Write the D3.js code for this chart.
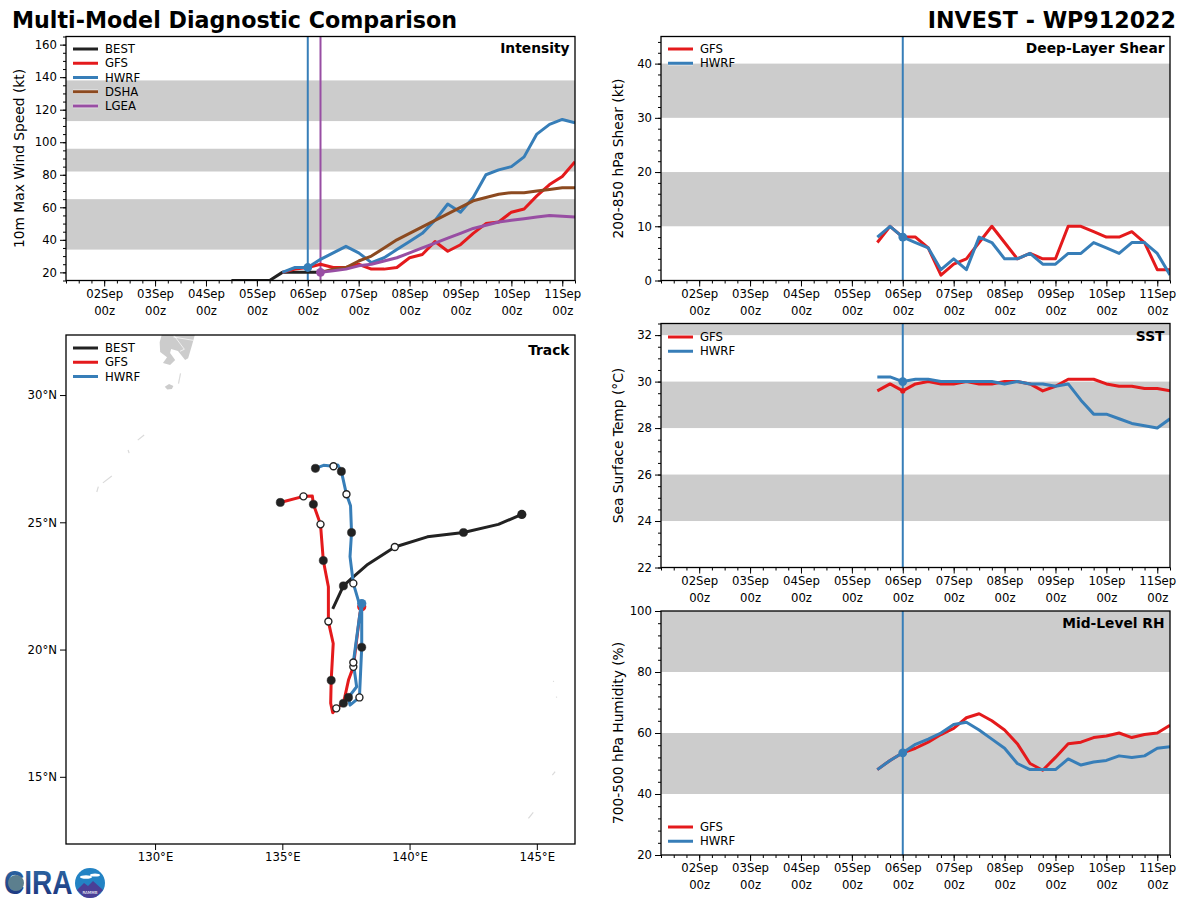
<!DOCTYPE html>
<html lang="en">
<head>
<meta charset="UTF-8">
<title>Multi-Model Diagnostic Comparison</title>
<script src="https://d3js.org/d3.v7.min.js"></script>
<style>
  html, body { margin: 0; padding: 0; background: #fff; }
  svg { display: block; }
  text { font-family: "DejaVu Sans", sans-serif; }
</style>
</head>
<body>
<script>
// forecast times, in days of September
var modelDays = [5.5, 5.75, 6, 6.25, 6.5, 6.75, 7, 7.25, 7.5, 7.75, 8, 8.25, 8.5, 8.75, 9, 9.25, 9.5, 9.75, 10, 10.25, 10.5, 10.75, 11, 11.25];
var bestDays = [4.5, 4.75, 5, 5.25, 5.5, 5.75, 6, 6.25];
var statDays = [6.25, 6.5, 6.75, 7, 7.25, 7.5, 7.75, 8, 8.25, 8.5, 8.75, 9, 9.25, 9.5, 9.75, 10, 10.25, 10.5, 10.75, 11, 11.25];
var majorDays = [2, 3, 4, 5, 6, 7, 8, 9, 10, 11];
var dayLabels = ["02Sep", "03Sep", "04Sep", "05Sep", "06Sep", "07Sep", "08Sep", "09Sep", "10Sep", "11Sep"];

// intensity (kt)
var vmaxBest = [15, 15, 15, 15, 20, 20, 20, 20];
var vmaxGfs = [20, 22, 23, 25, 23, 23, 25, 22, 22, 23, 29, 31, 39, 33, 37, 44, 50, 51, 57, 59, 67, 74, 79, 88];
var vmaxHwrf = [20, 23, 23, 28, 32, 36, 32, 26, 29, 34, 39, 44, 52, 62, 57, 66, 80, 83, 85, 91, 105, 111, 114, 112];
var vmaxDsha = [20, 22, 23, 27, 30, 35, 40, 44, 48, 52, 56, 60, 64, 66, 68, 69, 69, 70, 71, 72, 72];
var vmaxLgea = [20, 21, 22, 24, 25, 27, 29, 32, 35, 38, 41, 44, 47, 49, 51, 52, 53, 54, 55, 54.5, 54];

// shear (kt)
var shearGfs = [7, 10, 8, 8, 6, 1, 3, 4, 7, 10, 7, 4, 5, 4, 4, 10, 10, 9, 8, 8, 9, 7, 2, 2];
var shearHwrf = [8, 10, 8, 7, 6, 2, 4, 2, 8, 7, 4, 4, 5, 3, 3, 5, 5, 7, 6, 5, 7, 7, 5, 1];

// sst (C)
var sstGfs = [29.6, 29.9, 29.6, 29.9, 30, 29.9, 29.9, 30, 29.9, 29.9, 30, 30, 29.9, 29.6, 29.8, 30.1, 30.1, 30.1, 29.9, 29.8, 29.8, 29.7, 29.7, 29.6];
var sstHwrf = [30.2, 30.2, 30, 30.1, 30.1, 30, 30, 30, 30, 30, 29.9, 30, 29.9, 29.9, 29.8, 29.9, 29.2, 28.6, 28.6, 28.4, 28.2, 28.1, 28, 28.4];

// mid level rh (%)
var rhGfs = [48, 51, 53.5, 55, 57, 59.5, 61.5, 65, 66.3, 64, 61, 56.5, 50, 47.8, 52, 56.5, 57, 58.5, 59, 60, 58.5, 59.5, 60, 62.5];
var rhHwrf = [48, 51, 53.5, 56.3, 58, 60, 62.8, 63.5, 61, 58, 55, 50, 48, 48, 48, 51.5, 49.5, 50.5, 51, 52.5, 52, 52.5, 55, 55.5];

// shaded bands
var vmaxBands = [[34, 65], [82, 96], [113, 138]];
var shearBands = [[10, 20], [30, 40]];
var sstBands = [[24, 26], [28, 30], [32, 33]];
var rhBands = [[40, 60], [80, 100]];

// tracks, lon / lat
var bestLon = [144.41, 143.49, 142.12, 140.7, 139.42, 138.32, 137.79, 137.4, 136.98];
var bestLat = [25.31, 24.92, 24.6, 24.43, 24.03, 23.32, 22.86, 22.5, 21.6];
var bestMarkLon = [142.12, 139.42, 137.4];
var bestMarkLat = [24.6, 24.03, 22.5];
var bestMarkOpen = [false, true, false];

var gfsLon = [138.12, 138.05, 137.79, 137.6, 137.4, 137.12, 136.98, 136.9, 136.92, 137.0, 136.81, 136.81, 136.61, 136.5, 136.22, 136.18, 135.83, 134.92];
var gfsLat = [21.68, 21.42, 19.32, 18.8, 17.89, 17.69, 17.52, 17.89, 18.79, 20.24, 21.1, 22.47, 23.5, 24.92, 25.71, 26.03, 26.02, 25.78];
var gfsMarkLon = [137.79, 137.4, 137.12, 136.92, 136.81, 136.61, 136.5, 136.22, 135.83, 134.92];
var gfsMarkLat = [19.32, 17.89, 17.69, 18.79, 21.1, 23.5, 24.92, 25.71, 26.02, 25.78];
var gfsMarkOpen = [true, false, true, false, true, false, true, false, true, false];

var hwrfLon = [138.12, 138.12, 138.03, 137.66, 137.6, 137.92, 137.79, 138.02, 138.08, 137.79, 137.66, 137.72, 137.68, 137.52, 137.32, 137.18, 137.01, 136.62, 136.3];
var hwrfLat = [21.81, 20.09, 18.12, 17.82, 18.12, 18.54, 19.49, 21.2, 21.61, 22.6, 23.65, 24.6, 25.65, 26.1, 27.0, 27.25, 27.2, 27.24, 27.12];
var hwrfMarkLon = [138.12, 138.03, 137.6, 137.79, 137.79, 137.72, 137.52, 137.32, 137.01, 136.3];
var hwrfMarkLat = [20.09, 18.12, 18.12, 19.49, 22.6, 24.6, 26.1, 27.0, 27.2, 27.12];
var hwrfMarkOpen = [false, true, false, true, true, false, true, false, true, false];

var lonTicks = [130, 135, 140, 145];
var latTicks = [15, 20, 25, 30];

// land, [lon, lat]
var kyushu = [[130.3, 32.5], [131.6, 32.5], [131.45, 31.96], [131.3, 31.45], [131.18, 31.38], [130.9, 31.73], [130.63, 31.81], [130.59, 31.65], [130.79, 31.38], [130.59, 31.18], [130.31, 31.26], [130.47, 31.49], [130.2, 31.69], [130.18, 32.08]];
var tanegashima = [[130.38, 30.33], [130.55, 30.43], [130.72, 30.36], [130.66, 30.24], [130.48, 30.22]];
var kyushuBorders = [[[130.7, 32.4], [131.15, 31.8], [130.98, 31.72]], [[130.72, 32.28], [131.5, 32.15]]];
var islets = [
  [[131.0, 30.85], [130.92, 30.45]],
  [[129.32, 28.23], [129.57, 28.43]],
  [[128.94, 27.84], [128.98, 27.72]],
  [[128.3, 26.82], [127.95, 26.55]],
  [[127.77, 26.4], [127.71, 26.19]],
  [[144.67, 13.37], [144.86, 13.6]],
  [[145.61, 15.07], [145.72, 15.2]],
  [[145.65, 18.77], [145.66, 18.73]],
  [[145.77, 18.15], [145.78, 18.11]]
];

var RED = "#e41a1c", BLUE = "#377eb8", BROWN = "#8c4a20", PURPLE = "#984ea3", DARK = "#222222";

var svg = d3.select("body").append("svg").attr("width", 1200).attr("height", 900);

svg.append("text").attr("x", 12).attr("y", 28)
  .attr("font-size", 22.2).attr("font-weight", "bold")
  .text("Multi-Model Diagnostic Comparison");
svg.append("text").attr("x", 1176).attr("y", 28).attr("text-anchor", "end")
  .attr("font-size", 22.2).attr("font-weight", "bold")
  .text("INVEST - WP912022");

function drawLegend(g, entries, x, y) {
  entries.forEach(function (e, i) {
    var ly = y + i * 14.25;
    g.append("line").attr("x1", x).attr("x2", x + 25).attr("y1", ly).attr("y2", ly)
      .attr("stroke", "#fff").attr("stroke-opacity", 0.6).attr("stroke-width", 4.5);
    g.append("line").attr("x1", x).attr("x2", x + 25).attr("y1", ly).attr("y2", ly)
      .attr("stroke", e.color).attr("stroke-width", 3);
    g.append("text").attr("x", x + 32).attr("y", ly + 4.2).attr("font-size", 11.7).text(e.name);
  });
}

var clipId = 0;
function addFrame(left, top, width, height) {
  var id = "clip" + (clipId++);
  svg.append("clipPath").attr("id", id).append("rect")
    .attr("x", left).attr("y", top).attr("width", width).attr("height", height);
  return id;
}

function drawPanel(p) {
  var width = 509, height = 244;
  var x = d3.scaleLinear().domain([1.25, 11.25]).range([p.left, p.left + width]);
  var y = d3.scaleLinear().domain(p.yDomain).range([p.top + height, p.top]);
  var id = addFrame(p.left, p.top, width, height);
  var plot = svg.append("g").attr("clip-path", "url(#" + id + ")");

  plot.selectAll(".band").data(p.bands).enter().append("rect")
    .attr("x", p.left).attr("width", width)
    .attr("y", function (d) { return y(d[1]); })
    .attr("height", function (d) { return y(d[0]) - y(d[1]); })
    .attr("fill", "#cccccc");

  var line = d3.line().x(function (d) { return x(d[0]); }).y(function (d) { return y(d[1]); });

  // init time lines sit under the series, only the top colour for each time
  p.series.forEach(function (s, i) {
    if (s.init == null) return;
    var later = p.series.slice(i + 1).some(function (o) { return o.init === s.init; });
    s.hidden = later;
    if (later) return;
    plot.append("line").attr("x1", x(s.init)).attr("x2", x(s.init))
      .attr("y1", p.top).attr("y2", p.top + height)
      .attr("stroke", s.color).attr("stroke-width", 2);
  });
  p.series.forEach(function (s) {
    var pts = d3.zip(s.days, s.values);
    plot.append("path").attr("d", line(pts)).attr("fill", "none")
      .attr("stroke", s.color).attr("stroke-width", 3).attr("stroke-linejoin", "round");
  });
  p.series.forEach(function (s) {
    if (s.init == null) return;
    var k = s.days.indexOf(s.init);
    plot.append("circle").attr("cx", x(s.init)).attr("cy", y(s.values[k]))
      .attr("r", s.hidden ? 2.6 : 4.4).attr("fill", s.color);
  });

  var bottom = svg.append("g").attr("transform", "translate(0," + (p.top + height) + ")");
  bottom.call(d3.axisBottom(x).tickValues(d3.range(1.25, 11.26, 0.25)).tickSize(3).tickFormat(""));
  var major = bottom.append("g");
  major.call(d3.axisBottom(x).tickValues(majorDays).tickSize(6).tickFormat(function (d, i) { return dayLabels[i]; }));
  major.selectAll("text").attr("font-size", 11.7).attr("y", 9).attr("dy", "0.71em")
    .each(function () {
      d3.select(this.parentNode).append("text").attr("y", 26).attr("dy", "0.71em")
        .attr("font-size", 11.7).style("fill", "#000").text("00z");
    });
  bottom.selectAll(".domain").remove();

  var leftAxis = svg.append("g").attr("transform", "translate(" + p.left + ",0)");
  leftAxis.call(d3.axisLeft(y).tickValues(p.minor).tickSize(3).tickFormat(""));
  var leftMajor = leftAxis.append("g");
  leftMajor.call(d3.axisLeft(y).tickValues(p.yTicks).tickSize(6).tickPadding(3).tickFormat(d3.format("d")));
  leftMajor.selectAll("text").attr("font-size", 11.7);
  leftAxis.selectAll(".domain").remove();

  svg.selectAll(".tick line").attr("stroke", "#000");
  svg.append("rect").attr("x", p.left).attr("y", p.top).attr("width", width).attr("height", height)
    .attr("fill", "none").attr("stroke", "#000").attr("stroke-width", 1.3);

  svg.append("text")
    .attr("transform", "translate(" + p.labelX + "," + (p.top + height / 2 + p.labelShift) + ") rotate(-90)")
    .attr("text-anchor", "middle").attr("font-size", 13.8).text(p.yLabel);

  svg.append("text").attr("x", p.left + width - 5.5).attr("y", p.titleY).attr("text-anchor", "end")
    .attr("font-size", 13.8).attr("font-weight", "bold").text(p.title);

  drawLegend(svg.append("g"), p.series.map(function (s) { return { name: s.name, color: s.color }; }), p.left + 7, p.legendY);
}

drawPanel({
  left: 66, top: 36.5, yDomain: [15, 165],
  yTicks: [20, 40, 60, 80, 100, 120, 140, 160], minor: d3.range(15, 165.1, 5),
  bands: vmaxBands, yLabel: "10m Max Wind Speed (kt)", labelX: 24, labelShift: 0,
  title: "Intensity", titleY: 53, legendY: 49,
  series: [
    { name: "BEST", color: DARK, days: bestDays, values: vmaxBest },
    { name: "GFS", color: RED, days: modelDays, values: vmaxGfs, init: 6 },
    { name: "HWRF", color: BLUE, days: modelDays, values: vmaxHwrf, init: 6 },
    { name: "DSHA", color: BROWN, days: statDays, values: vmaxDsha, init: 6.25 },
    { name: "LGEA", color: PURPLE, days: statDays, values: vmaxLgea, init: 6.25 }
  ]
});

drawPanel({
  left: 661, top: 36.5, yDomain: [0, 45],
  yTicks: [0, 10, 20, 30, 40], minor: d3.range(0, 45.1, 2),
  bands: shearBands, yLabel: "200-850 hPa Shear (kt)", labelX: 623, labelShift: 0,
  title: "Deep-Layer Shear", titleY: 53, legendY: 49,
  series: [
    { name: "GFS", color: RED, days: modelDays, values: shearGfs, init: 6 },
    { name: "HWRF", color: BLUE, days: modelDays, values: shearHwrf, init: 6 }
  ]
});

drawPanel({
  left: 661, top: 323.5, yDomain: [22, 32.5],
  yTicks: [22, 24, 26, 28, 30, 32], minor: d3.range(22, 32.6, 0.5),
  bands: sstBands, yLabel: "Sea Surface Temp (°C)", labelX: 623, labelShift: 0,
  title: "SST", titleY: 341, legendY: 337,
  series: [
    { name: "GFS", color: RED, days: modelDays, values: sstGfs, init: 6 },
    { name: "HWRF", color: BLUE, days: modelDays, values: sstHwrf, init: 6 }
  ]
});

drawPanel({
  left: 661, top: 611, yDomain: [20, 100],
  yTicks: [20, 40, 60, 80, 100], minor: d3.range(20, 100.1, 4),
  bands: rhBands, yLabel: "700-500 hPa Humidity (%)", labelX: 623, labelShift: 0,
  title: "Mid-Level RH", titleY: 628, legendY: 827,
  series: [
    { name: "GFS", color: RED, days: modelDays, values: rhGfs, init: 6 },
    { name: "HWRF", color: BLUE, days: modelDays, values: rhHwrf, init: 6 }
  ]
});

// track map
(function () {
  var left = 66, top = 335, size = 509;
  var lon = d3.scaleLinear().domain([126.5, 146.5]).range([left, left + size]);
  var lat = d3.scaleLinear().domain([12.36, 32.36]).range([top + size, top]);
  var id = addFrame(left, top, size, size);
  var map = svg.append("g").attr("clip-path", "url(#" + id + ")");
  var geo = d3.line().x(function (d) { return lon(d[0]); }).y(function (d) { return lat(d[1]); });

  [kyushu, tanegashima].forEach(function (poly) {
    map.append("path").attr("d", geo(poly) + "Z").attr("fill", "#cccccc");
  });
  kyushuBorders.forEach(function (b) {
    map.append("path").attr("d", geo(b)).attr("fill", "none").attr("stroke", "#fff").attr("stroke-width", 0.7);
  });
  islets.forEach(function (b) {
    map.append("path").attr("d", geo(b)).attr("fill", "none").attr("stroke", "#dadada").attr("stroke-width", 1.2);
  });

  var tracks = [
    { color: DARK, lons: bestLon, lats: bestLat, mLon: bestMarkLon, mLat: bestMarkLat, mOpen: bestMarkOpen },
    { color: RED, lons: gfsLon, lats: gfsLat, mLon: gfsMarkLon, mLat: gfsMarkLat, mOpen: gfsMarkOpen },
    { color: BLUE, lons: hwrfLon, lats: hwrfLat, mLon: hwrfMarkLon, mLat: hwrfMarkLat, mOpen: hwrfMarkOpen }
  ];
  tracks.forEach(function (t) {
    map.append("path").attr("d", geo(d3.zip(t.lons, t.lats))).attr("fill", "none")
      .attr("stroke", t.color).attr("stroke-width", 3).attr("stroke-linejoin", "round");
    map.append("circle").attr("cx", lon(t.lons[0])).attr("cy", lat(t.lats[0])).attr("r", 4.6).attr("fill", t.color);
  });
  tracks.forEach(function (t) {
    map.selectAll(null).data(d3.zip(t.mLon, t.mLat, t.mOpen)).enter().append("circle")
      .attr("cx", function (d) { return lon(d[0]); })
      .attr("cy", function (d) { return lat(d[1]); })
      .attr("r", function (d) { return d[2] ? 3.5 : 4.1; })
      .attr("fill", function (d) { return d[2] ? "#fff" : DARK; })
      .attr("stroke", DARK).attr("stroke-width", function (d) { return d[2] ? 1.4 : 0.5; });
  });

  var bottom = svg.append("g").attr("transform", "translate(0," + (top + size) + ")");
  bottom.call(d3.axisBottom(lon).tickValues(lonTicks).tickSize(6).tickFormat(function (d) { return d + "°E"; }));
  bottom.selectAll("text").attr("font-size", 11.7).attr("y", 9);
  bottom.selectAll(".domain").remove();

  var leftAxis = svg.append("g").attr("transform", "translate(" + left + ",0)");
  leftAxis.call(d3.axisLeft(lat).tickValues(latTicks).tickSize(6).tickPadding(3).tickFormat(function (d) { return d + "°N"; }));
  leftAxis.selectAll("text").attr("font-size", 11.7);
  leftAxis.selectAll(".domain").remove();
  svg.selectAll(".tick line").attr("stroke", "#000");

  svg.append("rect").attr("x", left).attr("y", top).attr("width", size).attr("height", size)
    .attr("fill", "none").attr("stroke", "#000").attr("stroke-width", 1.3);
  svg.append("text").attr("x", left + size - 5.5).attr("y", 355).attr("text-anchor", "end")
    .attr("font-size", 13.8).attr("font-weight", "bold").text("Track");
  drawLegend(svg.append("g"), [
    { name: "BEST", color: DARK }, { name: "GFS", color: RED }, { name: "HWRF", color: BLUE }
  ], left + 7, 348);
})();

// logo
(function () {
  var logo = svg.append("g");
  var grad = svg.append("defs").append("linearGradient").attr("id", "ciraBlue")
    .attr("x1", 0).attr("x2", 0).attr("y1", 0).attr("y2", 1);
  grad.append("stop").attr("offset", "0").attr("stop-color", "#2f6fa8");
  grad.append("stop").attr("offset", "1").attr("stop-color", "#1b2f7a");
  logo.append("text").attr("transform", "translate(4,894) scale(0.85,1)")
    .attr("font-size", 33).attr("font-weight", "bold")
    .style("font-family", "'Liberation Sans', sans-serif").style("fill", "url(#ciraBlue)").text("CIRA");
  logo.append("circle").attr("cx", 16).attr("cy", 883).attr("r", 8).attr("fill", "#5c7f8e");
  logo.append("circle").attr("cx", 90).attr("cy", 883).attr("r", 15).attr("fill", "#2383c4");
  logo.append("ellipse").attr("cx", 86).attr("cy", 877).attr("rx", 6).attr("ry", 1.8).attr("fill", "#fff");
  logo.append("ellipse").attr("cx", 95).attr("cy", 875).attr("rx", 5).attr("ry", 1.6).attr("fill", "#fff");
  logo.append("path").attr("d", "M77 890 L84 883 L88 886 L93 881 L103 890 L96 897 Q90 899 84 897 Z").attr("fill", "#4a3f96");
  logo.append("text").attr("x", 90).attr("y", 893.5).attr("text-anchor", "middle").attr("font-size", 4).style("fill", "#fff").text("RAMMB");
})();
</script>
</body>
</html>
